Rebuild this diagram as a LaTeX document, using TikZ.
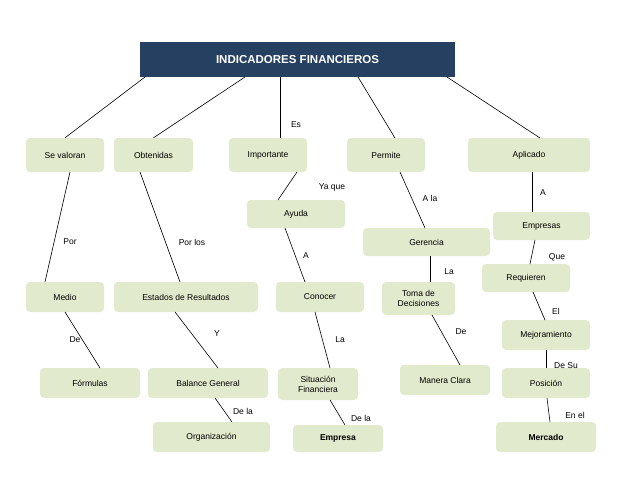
\documentclass[tikz,border=0pt]{standalone}
\usepackage{fontspec}
\setmainfont{Liberation Sans}
\definecolor{bxfill}{RGB}{225,234,204}
\definecolor{navy}{RGB}{38,64,97}
\begin{document}
\begin{tikzpicture}[x=1pt,y=-1pt,
  bx/.style={fill=bxfill,rounded corners=4pt,font=\fontsize{8.5}{10}\selectfont,align=center,inner sep=1pt},
  lb/.style={font=\fontsize{8.5}{10}\selectfont,inner sep=0pt},
  ln/.style={draw=black,line width=0.6pt}]
\useasboundingbox (0,0) rectangle (638,479);
\newcommand{\bx}[6]{\node[bx,minimum width=#4,minimum height=#5] (#1) at (#2,#3) {#6};}
\node[fill=navy,text=white,font=\bfseries\fontsize{11.5}{13}\selectfont,minimum width=315,minimum height=35,inner sep=0pt] (t) at (297.5,59.5) {INDICADORES FINANCIEROS};
\bx{sv}{65}{155}{78}{34}{Se valoran}
\bx{ob}{153.5}{155}{79}{34}{Obtenidas}
\bx{im}{268}{155}{78}{34}{Importante}
\bx{pe}{386}{155}{78}{34}{Permite}
\bx{ap}{529}{155}{122}{34}{Aplicado}
\bx{ay}{296}{214}{98}{28}{Ayuda}
\bx{me}{65}{297}{78}{30}{Medio}
\bx{er}{186}{297}{144}{30}{Estados de Resultados}
\bx{co}{320}{297}{88}{30}{Conocer}
\bx{ge}{426.5}{242}{127}{28}{Gerencia}
\bx{td}{418.5}{298.5}{73}{33}{Toma de\\Decisiones}
\bx{em}{541.5}{226}{97}{28}{Empresas}
\bx{re}{526}{278}{88}{28}{Requieren}
\bx{mj}{546}{335}{88}{30}{Mejoramiento}
\bx{po}{546}{383}{88}{30}{Posición}
\bx{fo}{90}{383}{100}{30}{Fórmulas}
\bx{bg}{208}{383}{120}{30}{Balance General}
\bx{or}{211.5}{437}{117}{30}{Organización}
\bx{sf}{318}{384}{80}{32}{Situación\\Financiera}
\bx{ep}{338}{438.5}{90}{27}{\textbf{Empresa}}
\bx{mc}{445}{380}{90}{30}{Manera Clara}
\bx{mr}{546}{437}{100}{30}{\textbf{Mercado}}
\draw[ln] (145,77) -- (sv.north);
\draw[ln] (245,77) -- (ob.north);
\draw[ln] (280,77) -- (280,138);
\draw[ln] (358,77) -- (395,138);
\draw[ln] (447,77) -- (540,138);
\draw[ln] (297,172) -- (278,200);
\draw[ln] (70,172) -- (45,282);
\draw[ln] (140,172) -- (180,282);
\draw[ln] (285,228) -- (305,282);
\draw[ln] (400,172) -- (425,228);
\draw[ln] (430,256) -- (430,282);
\draw[ln] (532,172) -- (532,212);
\draw[ln] (535,240) -- (530,264);
\draw[ln] (533,292) -- (545,320);
\draw[ln] (546,350) -- (546,368);
\draw[ln] (547,398) -- (550,422);
\draw[ln] (65,312) -- (100,368);
\draw[ln] (175,312) -- (218,368);
\draw[ln] (215,398) -- (232,422);
\draw[ln] (315,312) -- (330,368);
\draw[ln] (330,400) -- (345,425);
\draw[ln] (432,315) -- (460,365);
\node[lb] (l1) at (296,125) {Es};
\node[lb] (l2) at (332,187) {Ya que};
\node[lb] (l3) at (70,242) {Por};
\node[lb] (l4) at (192,242) {Por los};
\node[lb] (l5) at (306,256) {A};
\node[lb] (l6) at (430,198) {A la};
\node[lb] (l7) at (449,272) {La};
\node[lb] (l8) at (543,193) {A};
\node[lb] (l9) at (557,257) {Que};
\node[lb] (l10) at (556,311) {El};
\node[lb] (l11) at (566,366) {De Su};
\node[lb] (l12) at (575,415) {En el};
\node[lb] (l13) at (75,340) {De};
\node[lb] (l14) at (217,334) {Y};
\node[lb] (l15) at (243,411) {De la};
\node[lb] (l16) at (340,340) {La};
\node[lb] (l17) at (361,418) {De la};
\node[lb] (l18) at (461,332) {De};
\end{tikzpicture}
\end{document}
